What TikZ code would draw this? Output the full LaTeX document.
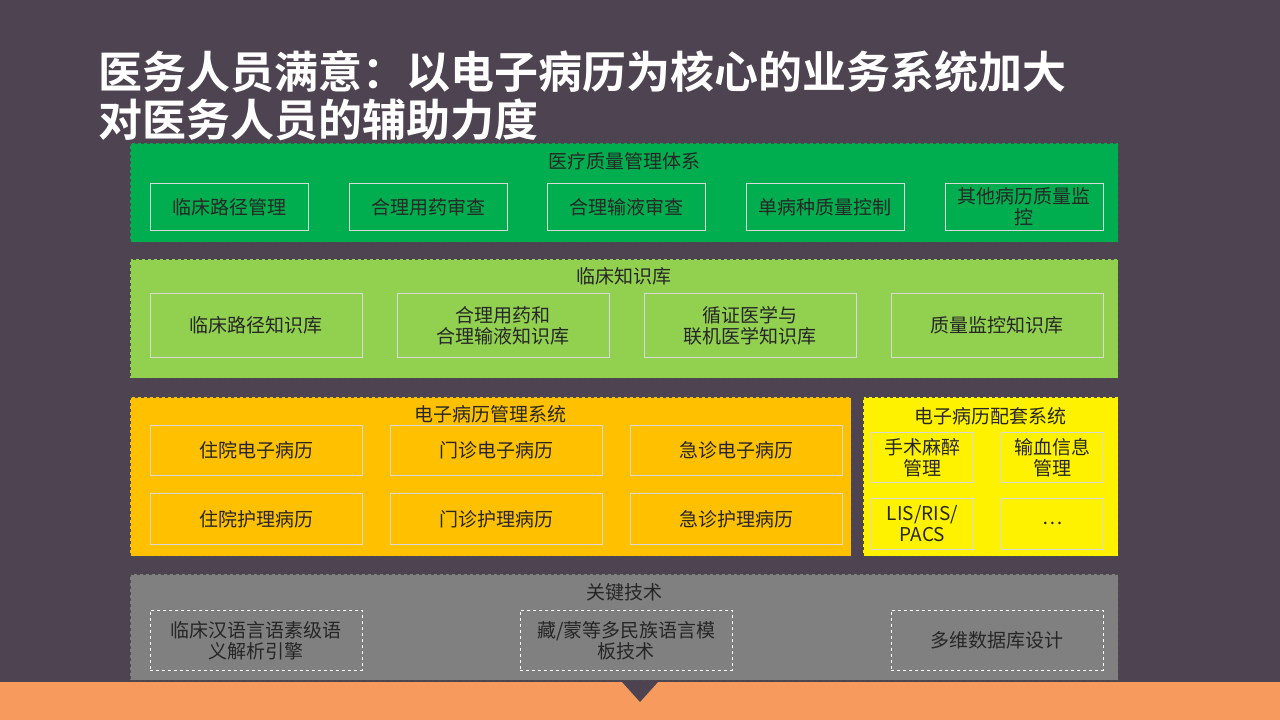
\documentclass[tikz,border=0pt]{standalone}
\usepackage{fontspec}
\setmainfont{Noto Sans CJK SC}
\newfontfamily\cjkb{Noto Sans CJK SC Bold}
\begin{document}
\begin{tikzpicture}[x=1pt,y=-1pt,
 panel/.style={draw=black!70,dashed,line width=0.8pt},
 item/.style={draw=white!85!black,line width=0.8pt,align=center,font=\fontsize{19}{21}\selectfont,text=black!85,inner sep=0pt},
 ditem/.style={item,draw=white,dashed},
 ttl/.style={font=\fontsize{19}{21}\selectfont,text=black!85,inner sep=0pt}]
\definecolor{bg}{HTML}{4E4350}
\definecolor{org}{HTML}{F79A5E}
\definecolor{c1}{RGB}{0,174,79}
\definecolor{c2}{RGB}{146,208,80}
\definecolor{c3}{RGB}{255,192,0}
\definecolor{c5}{RGB}{128,128,128}
\useasboundingbox (0,0) rectangle (1280,720);
\fill[bg] (0,0) rectangle (1280,720);
\fill[org] (0,682) rectangle (1280,720);
\fill[bg] (622,682) -- (658,682) -- (640,702) -- cycle;
\node[anchor=west,text=white,font=\cjkb\fontsize{44}{50}\selectfont,inner sep=0pt] (t1) at (98,72) {医务人员满意：以电子病历为核心的业务系统加大};
\node[anchor=west,text=white,font=\cjkb\fontsize{44}{50}\selectfont,inner sep=0pt] (t2) at (98,120) {对医务人员的辅助力度};
% panel 1
\fill[c1] (130,143) rectangle (1118,242);
\draw[panel] (130,143) rectangle (1118,242);
\node[ttl] (p1) at (624,161) {医疗质量管理体系};
\foreach \x/\t [count=\i] in {150/临床路径管理,349/合理用药审查,547/合理输液审查,746/单病种质量控制,945/{其他病历质量监\\控}}
 \node[item,minimum width=158pt,minimum height=47pt,anchor=north west] (a\i) at (\x,183) {\t};
% panel 2
\fill[c2] (130,259) rectangle (1118,378);
\draw[panel] (130,259) rectangle (1118,378);
\node[ttl] (p2) at (624,276) {临床知识库};
\foreach \x/\t [count=\i] in {150/临床路径知识库,397/{合理用药和\\合理输液知识库},644/{循证医学与\\联机医学知识库},891/质量监控知识库}
 \node[item,minimum width=212pt,minimum height=64pt,anchor=north west] (b\i) at (\x,293) {\t};
% panel 3
\fill[c3] (130,397) rectangle (851,556);
\draw[panel] (130,397) rectangle (851,556);
\node[ttl] (p3) at (490,414) {电子病历管理系统};
\foreach \x/\t [count=\i] in {150/住院电子病历,390/门诊电子病历,630/急诊电子病历}
 \node[item,minimum width=212pt,minimum height=50pt,anchor=north west] (c\i) at (\x,425) {\t};
\foreach \x/\t [count=\i] in {150/住院护理病历,390/门诊护理病历,630/急诊护理病历}
 \node[item,minimum width=212pt,minimum height=51pt,anchor=north west] (d\i) at (\x,493) {\t};
% panel 4
\fill[yellow] (863,397) rectangle (1118,556);
\draw[panel] (863,397) rectangle (1118,556);
\node[ttl] (p4) at (990,416) {电子病历配套系统};
\node[item,minimum width=102pt,minimum height=50pt,anchor=north west] (e1) at (871,432) {手术麻醉\\管理};
\node[item,minimum width=102pt,minimum height=50pt,anchor=north west] (e2) at (1001,432) {输血信息\\管理};
\node[item,minimum width=102pt,minimum height=51pt,anchor=north west] (e3) at (871,498) {LIS/RIS/\\PACS};
\node[item,minimum width=102pt,minimum height=51pt,anchor=north west] (e4) at (1001,498) {…};
% panel 5
\fill[c5] (130,574) rectangle (1118,680);
\draw[panel] (130,574) rectangle (1118,680);
\node[ttl] (p5) at (624,592) {关键技术};
\foreach \x/\t [count=\i] in {150/{临床汉语言语素级语\\义解析引擎},520/{藏/蒙等多民族语言模\\板技术},891/多维数据库设计}
 \node[ditem,minimum width=212pt,minimum height=60pt,anchor=north west] (f\i) at (\x,610) {\t};
\end{tikzpicture}
\end{document}
